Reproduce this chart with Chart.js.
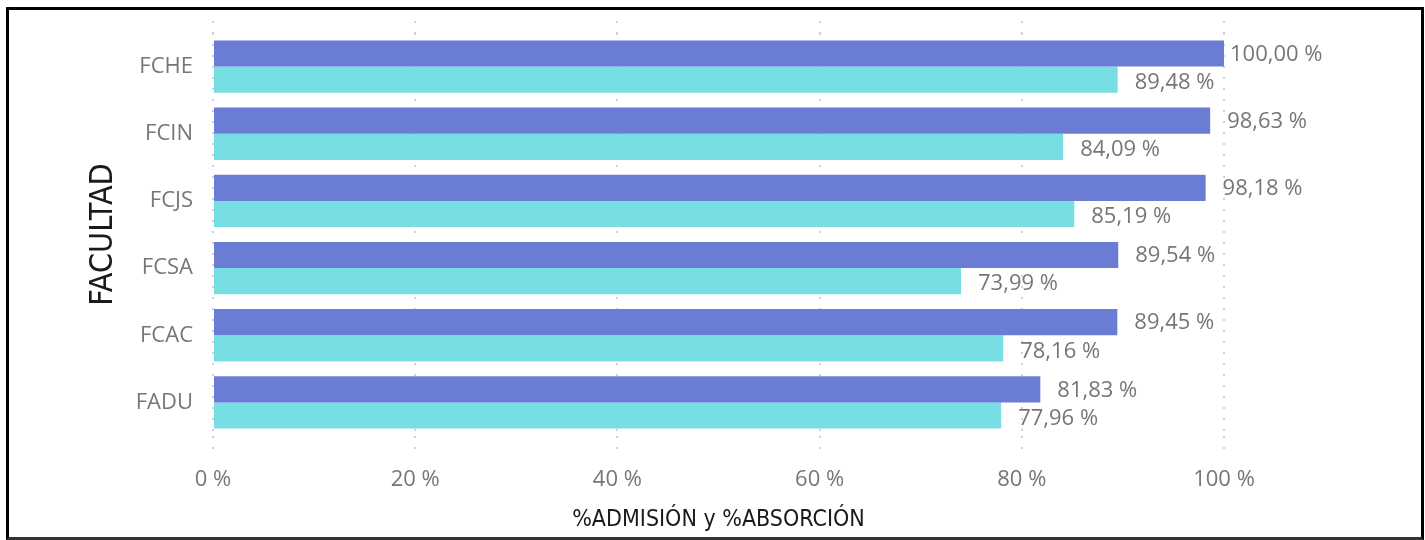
<!DOCTYPE html>
<html lang="es">
<head>
<meta charset="UTF-8">
<title>Admisión y absorción por facultad</title>
<script src="https://cdn.jsdelivr.net/npm/chart.js@4.4.1/dist/chart.umd.min.js"></script>
<style>
    html, body {
        margin: 0;
        padding: 0;
        background: #fff;
        overflow: hidden;
    }
    #marco {
        position: absolute;
        left: 6px;
        top: 7px;
        width: 1412px;
        height: 527px;
        border: 3px solid #000;
        border-bottom-color: #333;
    }
</style>
</head>
<body>
<div id="marco">
    <canvas id="facultadChart"></canvas>
</div>
<script>
// datos
const facultades = ['FCHE', 'FCIN', 'FCJS', 'FCSA', 'FCAC', 'FADU'];
const admision = [100.00, 98.63, 98.18, 89.54, 89.45, 81.83];
const absorcion = [89.48, 84.09, 85.19, 73.99, 78.16, 77.96];
const ticksX = [0, 20, 40, 60, 80, 100];

const colorAdmision = '#6B7CD5';
const colorAbsorcion = '#77DFE3';
const colorTexto = '#767676';
const colorTitulo = '#1a1a1a';
const colorGrilla = '#CFCFE0';
const punteado = [2, 9];

function formatoPct(v) {
    return v.toFixed(2).replace('.', ',') + ' %';
}

// etiquetas de datos a la derecha de cada barra
const etiquetasPlugin = {
    id: 'etiquetas',
    afterDatasetsDraw(chart) {
        const c = chart.ctx;
        const xScale = chart.scales.x;
        c.save();
        c.font = "22px 'Open Sans', sans-serif";
        c.fillStyle = colorTexto;
        c.textAlign = 'left';
        c.textBaseline = 'middle';
        chart.data.datasets.forEach((ds, i) => {
            const meta = chart.getDatasetMeta(i);
            meta.data.forEach((bar, j) => {
                const v = ds.data[j];
                const offset = v >= xScale.max ? 6 : 17;
                c.fillText(formatoPct(v), bar.x + offset, bar.y + (i === 1 ? 3 : 1));
            });
        });
        c.restore();
    }
};

document.addEventListener('DOMContentLoaded', () => {
    const ctx = document.getElementById('facultadChart').getContext('2d');
    Chart.defaults.font.family = "'Open Sans', sans-serif";

    new Chart(ctx, {
        type: 'bar',
        data: {
            labels: facultades,
            datasets: [
                {
                    label: '%ADMISIÓN',
                    data: admision,
                    backgroundColor: colorAdmision,
                    borderWidth: 0
                },
                {
                    label: '%ABSORCIÓN',
                    data: absorcion,
                    backgroundColor: colorAbsorcion,
                    borderWidth: 0
                }
            ]
        },
        options: {
            indexAxis: 'y',
            responsive: true,
            maintainAspectRatio: false,
            animation: false,
            categoryPercentage: 0.78,
            barPercentage: 1.0,
            layout: {
                padding: { left: 72, right: 197, top: 11, bottom: 0 }
            },
            plugins: {
                legend: { display: false },
                tooltip: { enabled: false }
            },
            scales: {
                x: {
                    min: 0,
                    max: 100,
                    afterBuildTicks: s => { s.ticks = ticksX.map(v => ({ value: v })); },
                    border: { display: false, dash: punteado },
                    grid: {
                        color: colorGrilla,
                        lineWidth: 2,
                        drawTicks: true,
                        tickLength: 20,
                        tickColor: colorGrilla,
                        tickBorderDash: punteado
                    },
                    ticks: {
                        color: colorTexto,
                        font: { size: 22 },
                        padding: 11,
                        maxRotation: 0,
                        callback: v => v + ' %'
                    },
                    title: {
                        display: true,
                        text: '%ADMISIÓN y %ABSORCIÓN',
                        color: colorTitulo,
                        font: { family: "'DejaVu Sans Condensed', 'DejaVu Sans', sans-serif", size: 23 },
                        padding: { top: 2, bottom: 3 }
                    }
                },
                // eje superior solo para prolongar la grilla punteada
                xTop: {
                    position: 'top',
                    min: 0,
                    max: 100,
                    afterBuildTicks: s => { s.ticks = ticksX.map(v => ({ value: v })); },
                    border: { display: false, dash: punteado },
                    grid: {
                        drawOnChartArea: false,
                        drawTicks: true,
                        tickLength: 12,
                        tickColor: colorGrilla,
                        lineWidth: 2,
                        tickBorderDash: punteado
                    },
                    ticks: { display: false }
                },
                y: {
                    offset: true,
                    border: { display: false },
                    grid: { display: false, drawTicks: false },
                    afterFit: s => {
                        s.width = 132;
                        s.paddingTop = 0;
                        s.paddingBottom = 0;
                    },
                    ticks: {
                        color: colorTexto,
                        font: { size: 22 },
                        padding: 20
                    },
                    title: {
                        display: true,
                        text: 'FACULTAD',
                        color: colorTitulo,
                        font: { family: "'DejaVu Sans Condensed', 'DejaVu Sans', sans-serif", size: 32 },
                        padding: { top: 3, bottom: 0 }
                    }
                }
            }
        },
        plugins: [etiquetasPlugin]
    });
});
</script>
</body>
</html>
